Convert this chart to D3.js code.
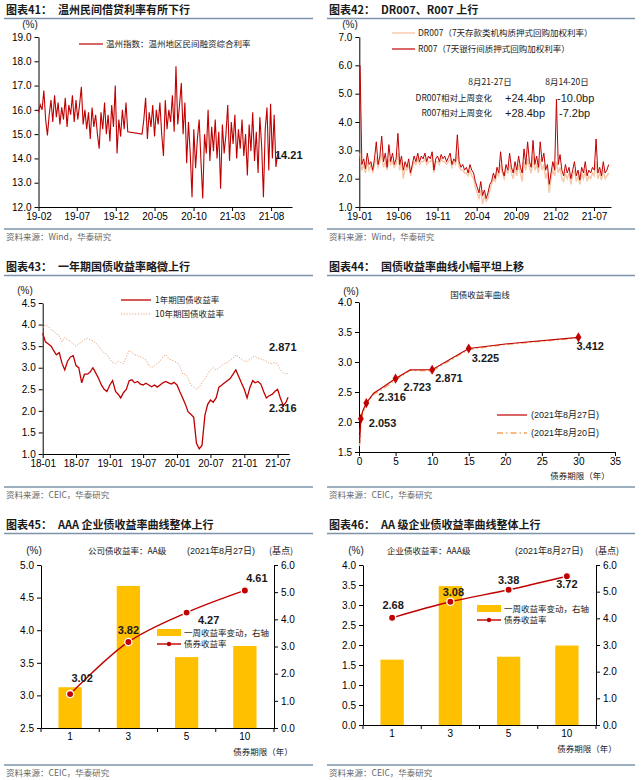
<!DOCTYPE html>
<html>
<head>
<meta charset="utf-8">
<script src="https://cdn.jsdelivr.net/npm/d3@7"></script>
<style>
body { margin: 0; background: #fff; }
svg text { font-family: Arial, "Liberation Sans", "Noto Sans CJK SC", sans-serif; }
svg .cn { font-family: "Noto Sans CJK SC", sans-serif; }
</style>
</head>
<body>
<svg id="canvas" width="641" height="780"></svg>
<script>
// ---- Data ----
// Fig 41: Wenzhou private lending rate, weekly from 2019-02-01 (null = no data)
const wzStart = "2019-02-01";
const wzRate = [
  15.9,16.2,16.0,16.8,15.6,14.95,15.8,16.4,15.5,16.6,
  15.7,16.3,15.4,16.1,15.6,16.5,15.3,16.2,15.8,16.6,
  15.5,16.4,15.6,16.2,16.95,15.4,16.0,15.2,15.9,14.8,
  16.1,15.3,15.8,15.0,14.4,15.9,15.2,16.3,15.0,15.8,
  14.7,16.2,15.3,17.0,14.2,15.6,14.9,16.0,15.2,16.3,
  15.1,null,null,null,null,null,null,null,15.0,15.6,
  16.5,14.8,15.9,15.3,16.2,14.9,16.0,15.4,16.3,15.0,
  14.1,16.4,15.2,16.0,15.5,16.6,15.1,17.8,15.4,16.2,
  17.1,15.0,16.3,13.8,15.5,14.2,12.4,15.2,13.6,14.8,
  15.6,13.9,12.35,15.0,14.2,16.0,13.9,15.3,14.3,15.6,
  14.0,15.1,12.75,15.4,14.2,15.0,16.2,13.9,15.5,14.6,
  15.8,14.0,15.2,14.4,15.6,14.1,15.0,13.3,15.4,14.3,
  15.9,13.9,15.1,13.4,15.7,14.5,12.4,15.2,16.1,13.5,
  16.25,14.0,15.8,13.65,14.21
];
const wzTicks = ["2019-02-01","2019-07-01","2019-12-01","2020-05-01","2020-10-01","2021-03-01","2021-08-01"];

// Fig 42: repo rates, weekly from 2019-01-04
const repoStart = "2019-01-04";
const r007 = [
  6.0,2.5,2.7,2.35,2.9,2.5,2.6,2.3,2.7,3.3,
  2.5,2.8,3.5,2.6,2.9,2.4,3.2,2.6,2.9,2.5,
  2.7,3.6,2.5,2.8,2.3,2.6,2.4,2.7,2.2,2.5,
  2.8,2.6,2.9,2.6,2.8,2.7,2.9,2.6,2.8,2.7,
  2.95,2.3,2.7,2.8,2.6,2.85,2.7,2.8,2.6,2.75,
  2.9,2.5,2.7,2.6,3.55,2.6,2.4,2.5,2.3,2.4,
  2.2,2.5,2.3,2.2,1.9,1.7,1.5,1.9,1.4,1.6,
  1.3,1.5,1.8,1.9,2.2,2.0,2.4,2.2,2.95,2.3,
  2.1,2.5,2.3,2.9,2.4,2.2,2.6,2.3,2.8,2.4,
  2.2,3.05,2.5,3.3,2.6,2.4,3.35,2.5,2.8,2.4,
  3.3,2.6,2.9,2.3,2.5,1.8,2.2,2.6,2.3,4.8,
  2.5,2.85,2.3,2.1,2.5,2.2,2.4,2.0,2.3,2.6,
  2.1,2.3,1.95,2.4,2.2,2.6,2.1,2.3,2.2,2.4,
  2.3,3.4,2.2,2.4,2.1,2.6,2.2,2.3,2.5
];
const dr007 = [
  2.9,2.3,2.5,2.2,2.6,2.3,2.5,2.2,2.5,2.7,
  2.4,2.6,2.9,2.4,2.6,2.3,2.7,2.5,2.6,2.4,
  2.5,2.9,2.3,2.6,2.0,2.4,2.3,2.5,2.1,2.4,
  2.6,2.5,2.7,2.5,2.6,2.6,2.7,2.5,2.6,2.6,
  2.7,2.2,2.6,2.6,2.5,2.7,2.6,2.6,2.5,2.6,
  2.7,2.4,2.6,2.5,2.9,2.4,2.3,2.3,2.2,2.2,
  2.1,2.3,2.1,2.0,1.7,1.5,1.3,1.6,1.1,1.4,
  1.2,1.3,1.6,1.8,2.0,1.9,2.2,2.1,2.5,2.2,
  2.0,2.3,2.2,2.5,2.2,2.0,2.4,2.1,2.5,2.2,
  1.9,2.6,2.3,2.7,2.4,2.2,2.8,2.3,2.5,2.2,
  2.7,2.3,2.5,2.0,2.2,1.5,2.0,2.3,2.1,2.6,
  2.2,2.4,2.0,1.9,2.2,2.0,2.2,1.8,2.1,2.3,
  1.9,2.1,1.8,2.2,2.0,2.3,1.9,2.1,2.0,2.2,
  2.1,2.6,2.0,2.2,1.95,2.3,2.0,2.1,2.2
];
const repoTicks = ["2019-01-01","2019-06-01","2019-11-01","2020-04-01","2020-09-01","2021-02-01","2021-07-01"];

// Fig 43: CGB yields, 1st and 16th of each month from 2018-01, last point 2021-08-27
const cgbEnd = "2021-08-27";
const cgb1y = [
  3.8,3.6, 3.55,3.5, 3.4,3.3, 3.35,3.1, 2.95,3.15, 3.25,3.28, 3.05,3.0, 2.65,2.85, 2.85,2.9, 3.0,2.88, 2.75,2.6, 2.5,2.45,
  2.6,2.7, 2.45,2.38, 2.3,2.42, 2.5,2.7, 2.72,2.65, 2.68,2.62, 2.6,2.64, 2.6,2.56, 2.6,2.55, 2.6,2.65, 2.68,2.65, 2.62,2.66,
  2.6,2.45, 2.3,2.15, 1.98,1.92, 1.85,1.25, 1.12,1.2, 1.9,2.15, 2.25,2.2, 2.3,2.55, 2.6,2.65, 2.7,2.75, 2.85,2.95, 2.8,2.65,
  2.5,2.3, 2.55,2.7, 2.65,2.68, 2.62,2.45, 2.3,2.35, 2.38,2.45, 2.5,2.3, 2.12,2.2,
  2.316
];
const cgb10y = [
  3.92,4.0, 3.95,3.88, 3.85,3.78, 3.75,3.6, 3.7,3.65, 3.62,3.55, 3.5,3.55, 3.6,3.65, 3.68,3.65, 3.62,3.58, 3.5,3.4, 3.35,3.3,
  3.2,3.12, 3.1,3.15, 3.12,3.1, 3.25,3.4, 3.35,3.3, 3.28,3.25, 3.22,3.18, 3.05,3.0, 3.05,3.1, 3.15,3.25, 3.3,3.22, 3.18,3.15,
  3.12,3.05, 2.85,2.85, 2.75,2.6, 2.55,2.5, 2.55,2.65, 2.75,2.85, 2.95,3.0, 2.95,3.0, 3.05,3.1, 3.12,3.18, 3.22,3.3, 3.25,3.2,
  3.15,3.15, 3.2,3.25, 3.27,3.22, 3.2,3.18, 3.15,3.1, 3.1,3.12, 3.08,2.95, 2.88,2.85,
  2.871
];
const cgbTicks = ["2018-01-01","2018-07-01","2019-01-01","2019-07-01","2020-01-01","2020-07-01","2021-01-01","2021-07-01"];

// Fig 44: CGB yield curve
const tenors = [0.08, 0.25, 0.5, 1, 2, 3, 5, 7, 10, 15, 20, 30];
const curve0827 = [1.65, 2.053, 2.18, 2.316, 2.48, 2.56, 2.723, 2.87, 2.871, 3.225, 3.30, 3.412];
const curve0820 = [1.60, 2.02, 2.15, 2.29, 2.46, 2.53, 2.70, 2.86, 2.85, 3.21, 3.29, 3.40];
const markedTenors = [0.25, 1, 5, 10, 15, 30];

// Fig 45 / 46: corporate bond curves
const creditTerms = ["1", "3", "5", "10"];
const aaYield = [3.02, 3.82, 4.27, 4.61];
const aaChange = [1.5, 5.23, 2.61, 3.02];
const aaaYield = [2.68, 3.08, 3.38, 3.72];
const aaaChange = [2.45, 5.21, 2.56, 2.98];

// ---- Drawing ----
const RED = "#C00000";
const svg = d3.select("#canvas");
const parse = d3.timeParse("%Y-%m-%d");

const header = (x0, x1, y, num, title) => {
   const t = svg.append("text").attr("class", "cn").attr("x", x0).attr("y", y)
               .attr("font-size", 11).attr("font-weight", "bold").attr("fill", "#1a1a1a");
   t.append("tspan").text(`图表${num}：`);
   t.append("tspan").attr("dx", 6).text(title);
   svg.append("line").attr("x1", x0 - 2).attr("x2", x1).attr("y1", y + 4.5).attr("y2", y + 4.5)
      .attr("stroke", "#7D93AA").attr("stroke-width", 1.5);
};

const source = (x0, x1, y, text) => {
   svg.append("line").attr("x1", x0 - 2).attr("x2", x1).attr("y1", y).attr("y2", y)
      .attr("stroke", "#7D93AA").attr("stroke-width", 1.5);
   svg.append("text").attr("class", "cn").attr("x", x0).attr("y", y + 11)
      .attr("font-size", 8.5).attr("fill", "#666").text(text);
};

const styleAxis = (g) => {
   g.select(".domain").attr("stroke", "#000");
   g.selectAll(".tick line").attr("stroke", "#000");
   g.selectAll(".tick text").attr("font-size", 10).attr("fill", "#000");
};

const label = (x, y, text, opts = {}) => {
   return svg.append("text").attr("x", x).attr("y", y)
      .attr("font-size", opts.size || 9)
      .attr("font-weight", opts.bold ? "bold" : "normal")
      .attr("text-anchor", opts.anchor || "start")
      .attr("class", opts.cn ? "cn" : null)
      .attr("fill", opts.fill || "#1a1a1a")
      .text(text);
};

// ===== Fig 41 =====
header(6, 313, 14, "41", "温州民间借贷利率有所下行");
{
   const x = d3.scaleTime().domain([parse("2019-02-01"), parse("2021-10-22")]).range([38.5, 292]);
   const y = d3.scaleLinear().domain([12, 19]).range([207, 37]);
   const start = parse(wzStart);
   const pts = wzRate.map((v, i) => ({ d: d3.timeDay.offset(start, 7 * i), v }))
                     .filter(p => p.v !== null);
   svg.append("g").attr("transform", "translate(0,207)")
      .call(d3.axisBottom(x).tickValues(wzTicks.map(parse)).tickFormat(d3.timeFormat("%y-%m"))
            .tickSize(4).tickSizeOuter(0).tickPadding(2))
      .call(styleAxis);
   svg.append("g").attr("transform", "translate(38.5,0)")
      .call(d3.axisLeft(y).tickValues(d3.range(12, 20)).tickSize(4).tickSizeOuter(0).tickPadding(3))
      .call(styleAxis);
   svg.append("path").datum(pts)
      .attr("d", d3.line().x(p => x(p.d)).y(p => y(p.v)))
      .attr("fill", "none").attr("stroke", RED).attr("stroke-width", 1.1);
   label(30, 28, "(%)", { size: 10, anchor: "middle" });
   svg.append("line").attr("x1", 79).attr("x2", 103).attr("y1", 44).attr("y2", 44)
      .attr("stroke", RED).attr("stroke-width", 1.2);
   label(106, 47, "温州指数：温州地区民间融资综合利率", { cn: true, size: 8.5 });
   label(275, 159, "14.21", { size: 11, bold: true });
}
source(6, 313, 229, "资料来源：Wind，华泰研究");

// ===== Fig 42 =====
header(329, 635, 14, "42", "DR007、R007 上行");
{
   const x = d3.scaleTime().domain([parse("2019-01-01"), parse("2021-09-05")]).range([359.3, 611]);
   const y = d3.scaleLinear().domain([1, 7]).range([207, 37]);
   const start = parse(repoStart);
   const dateOf = i => d3.timeDay.offset(start, 7 * i);
   svg.append("g").attr("transform", "translate(0,207)")
      .call(d3.axisBottom(x).tickValues(repoTicks.map(parse)).tickFormat(d3.timeFormat("%y-%m"))
            .tickSize(4).tickSizeOuter(0).tickPadding(2))
      .call(styleAxis);
   svg.append("g").attr("transform", "translate(359.3,0)")
      .call(d3.axisLeft(y).tickValues(d3.range(1, 8)).tickSize(4).tickSizeOuter(0).tickPadding(3))
      .call(styleAxis);
   const line = d3.line().x((v, i) => x(dateOf(i))).y(v => y(v));
   svg.append("path").datum(dr007).attr("d", line)
      .attr("fill", "none").attr("stroke", "#F6C6A6").attr("stroke-width", 1.4);
   svg.append("path").datum(r007).attr("d", line)
      .attr("fill", "none").attr("stroke", RED).attr("stroke-width", 1);
   label(350, 28, "(%)", { size: 10, anchor: "middle" });
   svg.append("line").attr("x1", 392).attr("x2", 415).attr("y1", 33).attr("y2", 33)
      .attr("stroke", "#F6C6A6").attr("stroke-width", 1.4);
   label(418, 36, "DR007（7天存款类机构质押式回购加权利率）", { cn: true, size: 8.5 });
   svg.append("line").attr("x1", 392).attr("x2", 415).attr("y1", 49).attr("y2", 49)
      .attr("stroke", RED).attr("stroke-width", 1.2);
   label(418, 52, "R007（7天银行间质押式回购加权利率）", { cn: true, size: 8.5 });
   label(490, 85, "8月21-27日", { cn: true, size: 8.5, anchor: "middle" });
   label(567, 85, "8月14-20日", { cn: true, size: 8.5, anchor: "middle" });
   label(492, 101, "DR007相对上周变化", { cn: true, size: 8.5, anchor: "end" });
   label(492, 116, "R007相对上周变化", { cn: true, size: 8.5, anchor: "end" });
   label(505, 102, "+24.4bp", { size: 11 });
   label(557, 102, "-10.0bp", { size: 11 });
   label(505, 117, "+28.4bp", { size: 11 });
   label(559, 117, "-7.2bp", { size: 11 });
}
source(329, 635, 229, "资料来源：Wind，华泰研究");

// ===== Fig 43 =====
header(6, 313, 271, "43", "一年期国债收益率略微上行");
{
   const x = d3.scaleTime().domain([parse("2018-01-01"), parse("2021-09-01")]).range([42.7, 289]);
   const y = d3.scaleLinear().domain([1, 4.5]).range([454, 303]);
   const last = cgb1y.length - 1;
   const dateOf = i => i === last ? parse(cgbEnd) : new Date(2018, Math.floor(i / 2), i % 2 ? 16 : 1);
   svg.append("g").attr("transform", "translate(0,454)")
      .call(d3.axisBottom(x).tickValues(cgbTicks.map(parse)).tickFormat(d3.timeFormat("%y-%m"))
            .tickSize(4).tickSizeOuter(0).tickPadding(2))
      .call(styleAxis);
   svg.append("g").attr("transform", "translate(42.7,0)")
      .call(d3.axisLeft(y).tickValues(d3.range(1, 4.51, 0.5)).tickFormat(d3.format(".1f"))
            .tickSize(4).tickSizeOuter(0).tickPadding(3))
      .call(styleAxis);
   const line = d3.line().x((v, i) => x(dateOf(i))).y(v => y(v));
   svg.append("path").datum(cgb10y).attr("d", line)
      .attr("fill", "none").attr("stroke", "#E8A27C").attr("stroke-width", 1).attr("stroke-dasharray", "1.2,1.6");
   svg.append("path").datum(cgb1y).attr("d", line)
      .attr("fill", "none").attr("stroke", RED).attr("stroke-width", 1.3);
   label(25, 294, "(%)", { size: 10, anchor: "middle" });
   svg.append("line").attr("x1", 121).attr("x2", 151).attr("y1", 300).attr("y2", 300)
      .attr("stroke", RED).attr("stroke-width", 1.3);
   label(155, 303, "1年期国债收益率", { cn: true, size: 8.5 });
   svg.append("line").attr("x1", 121).attr("x2", 151).attr("y1", 314).attr("y2", 314)
      .attr("stroke", "#E8A27C").attr("stroke-width", 1).attr("stroke-dasharray", "1.2,1.6");
   label(155, 317, "10年期国债收益率", { cn: true, size: 8.5 });
   label(269, 351, "2.871", { size: 11, bold: true });
   label(269, 412, "2.316", { size: 11, bold: true });
}
source(6, 313, 487, "资料来源：CEIC，华泰研究");

// ===== Fig 44 =====
header(329, 635, 271, "44", "国债收益率曲线小幅平坦上移");
{
   const x = d3.scaleLinear().domain([0, 35]).range([359, 615]);
   const y = d3.scaleLinear().domain([1.5, 4]).range([452, 302]);
   svg.append("g").attr("transform", "translate(0,452)")
      .call(d3.axisBottom(x).tickValues(d3.range(0, 36, 5)).tickSize(4).tickSizeOuter(0).tickPadding(2))
      .call(styleAxis);
   svg.append("g").attr("transform", "translate(359,0)")
      .call(d3.axisLeft(y).tickValues(d3.range(1.5, 4.01, 0.5)).tickFormat(d3.format(".1f"))
            .tickSize(4).tickSizeOuter(0).tickPadding(3))
      .call(styleAxis);
   const line = d3.line().x((v, i) => x(tenors[i])).y(v => y(v));
   svg.append("path").datum(curve0820).attr("d", line)
      .attr("fill", "none").attr("stroke", "#F4A460").attr("stroke-width", 1.3).attr("stroke-dasharray", "6,3,1.5,3");
   svg.append("path").datum(curve0827).attr("d", line)
      .attr("fill", "none").attr("stroke", RED).attr("stroke-width", 1.2);
   const diamond = d3.symbol().type(d3.symbolDiamond).size(30);
   const offsets = [[8, 8], [12, -2], [8, 12], [3, 12], [3, 13], [-2, 13]];
   markedTenors.forEach((t, k) => {
      const v = curve0827[tenors.indexOf(t)];
      svg.append("path").attr("d", diamond).attr("transform", `translate(${x(t)},${y(v)})`).attr("fill", RED);
      label(x(t) + offsets[k][0], y(v) + offsets[k][1], d3.format(".3f")(v), { size: 11, bold: true });
   });
   label(351, 295, "(%)", { size: 10, anchor: "middle" });
   label(480, 298, "国债收益率曲线", { cn: true, size: 8.5, anchor: "middle" });
   label(580, 479, "债券期限（年）", { cn: true, size: 8.5, anchor: "middle" });
   svg.append("line").attr("x1", 497).attr("x2", 527).attr("y1", 415).attr("y2", 415)
      .attr("stroke", RED).attr("stroke-width", 1.2);
   label(531, 418, "(2021年8月27日)", { size: 9 });
   svg.append("line").attr("x1", 497).attr("x2", 527).attr("y1", 433).attr("y2", 433)
      .attr("stroke", "#F4A460").attr("stroke-width", 1.3).attr("stroke-dasharray", "6,3,1.5,3");
   label(531, 436, "(2021年8月20日)", { size: 9 });
}
source(329, 635, 487, "资料来源：CEIC，华泰研究");

// ===== Fig 45 / 46 =====
const creditChart = (cfg) => {
   const x = d3.scaleBand().domain(creditTerms).range([cfg.x0, cfg.x1]);
   const yl = d3.scaleLinear().domain(cfg.leftDomain).range([cfg.base, 565]);
   const yr = d3.scaleLinear().domain([0, 6]).range([cfg.base, 565]);
   const bw = x.bandwidth();
   svg.selectAll(null).data(cfg.change).enter().append("rect")
      .attr("x", (d, i) => x(creditTerms[i]) + bw * 0.3)
      .attr("width", bw * 0.4)
      .attr("y", d => yr(d))
      .attr("height", d => cfg.base - yr(d))
      .attr("fill", "#FFC000");
   const gx = svg.append("g").attr("transform", `translate(0,${cfg.base})`)
      .call(d3.axisBottom(x).tickSize(0).tickPadding(5))
      .call(styleAxis);
   creditTerms.concat([null]).forEach((t) => {
      const bx = t === null ? cfg.x1 : x(t);
      gx.append("line").attr("x1", bx).attr("x2", bx).attr("y1", 0).attr("y2", 4).attr("stroke", "#000");
   });
   svg.append("g").attr("transform", `translate(${cfg.x0},0)`)
      .call(d3.axisLeft(yl).tickValues(d3.range(cfg.leftDomain[0], cfg.leftDomain[1] + 0.01, 0.5))
            .tickFormat(d3.format(".1f")).tickSize(4).tickSizeOuter(0).tickPadding(3))
      .call(styleAxis);
   svg.append("g").attr("transform", `translate(${cfg.x1},0)`)
      .call(d3.axisRight(yr).tickValues(d3.range(0, 7)).tickFormat(d3.format(".1f"))
            .tickSize(4).tickSizeOuter(0).tickPadding(3))
      .call(styleAxis);
   svg.append("path").datum(cfg.yield)
      .attr("d", d3.line().curve(d3.curveCatmullRom.alpha(0.5))
                   .x((v, i) => x(creditTerms[i]) + bw / 2).y(v => yl(v)))
      .attr("fill", "none").attr("stroke", RED).attr("stroke-width", 1.4);
   cfg.yield.forEach((v, i) => {
      const cx = x(creditTerms[i]) + bw / 2;
      svg.append("circle").attr("cx", cx).attr("cy", yl(v)).attr("r", 3.6)
         .attr("fill", RED).attr("stroke", "#fff").attr("stroke-width", 1.3);
      label(cx + cfg.offsets[i][0], yl(v) + cfg.offsets[i][1], d3.format(".2f")(v),
            { size: 11, bold: true, anchor: "middle" });
   });
   // legend
   svg.append("rect").attr("x", cfg.lx).attr("y", cfg.ly - 4).attr("width", 24).attr("height", 7).attr("fill", "#FFC000");
   label(cfg.lx + 27, cfg.ly + 3, "一周收益率变动，右轴", { cn: true, size: 8.5 });
   svg.append("line").attr("x1", cfg.lx).attr("x2", cfg.lx + 24).attr("y1", cfg.ly + 11).attr("y2", cfg.ly + 11)
      .attr("stroke", RED).attr("stroke-width", 1.4);
   svg.append("circle").attr("cx", cfg.lx + 12).attr("cy", cfg.ly + 11).attr("r", 2.2).attr("fill", RED);
   label(cfg.lx + 27, cfg.ly + 14, "债券收益率", { cn: true, size: 8.5 });
   // texts
   label(cfg.pctX, 554, "(%)", { size: 10, anchor: "middle" });
   label(cfg.bpX, 554, "(基点)", { cn: true, size: 9, anchor: "middle" });
   label(cfg.subX, 554, cfg.sub, { cn: true, size: 8.5 });
   label(cfg.dateX, 554, "(2021年8月27日)", { size: 9 });
   label(cfg.unitX, cfg.base + 27, "债券期限（年）", { cn: true, size: 8.5, anchor: "middle" });
};

header(6, 313, 529, "45", "AAA 企业债收益率曲线整体上行");
creditChart({
   x0: 41, x1: 274, base: 728, leftDomain: [2.5, 5],
   yield: aaYield, change: aaChange,
   offsets: [[12, -12], [0, -8], [22, 11], [12, -8]],
   lx: 157, ly: 633, pctX: 34, bpX: 281, subX: 88, dateX: 187, unitX: 263,
   sub: "公司债收益率：AA级"
});
source(6, 313, 765, "资料来源：CEIC，华泰研究");

header(329, 635, 529, "46", "AA 级企业债收益率曲线整体上行");
creditChart({
   x0: 363, x1: 596, base: 725, leftDomain: [0, 4],
   yield: aaaYield, change: aaaChange,
   offsets: [[1, -9], [3, -6], [0, -6], [0, 12]],
   lx: 477, ly: 609, pctX: 356, bpX: 607, subX: 387, dateX: 515, unitX: 587,
   sub: "企业债收益率：AAA级"
});
source(329, 635, 765, "资料来源：CEIC，华泰研究");
</script>
</body>
</html>
